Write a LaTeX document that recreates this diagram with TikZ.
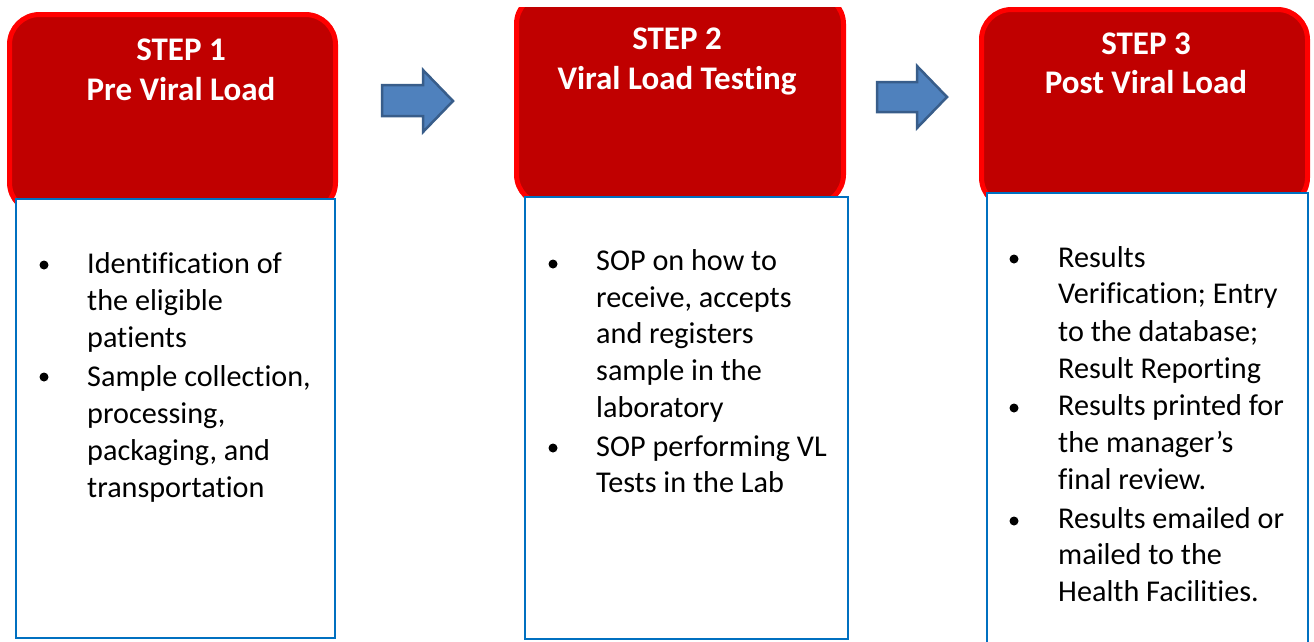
\documentclass[tikz,border=0pt]{standalone}
\usepackage{fontspec}
\setmainfont{Carlito}[Ligatures=CommonOff]
\definecolor{hdrfill}{HTML}{C00000}
\definecolor{hdrline}{HTML}{FF0000}
\definecolor{boxblue}{HTML}{0070C0}
\definecolor{arrfill}{HTML}{4F81BD}
\definecolor{arrline}{HTML}{385D8A}
\tikzset{
  hdr/.style={fill=hdrfill, draw=hdrline, line width=5pt, rounded corners=30pt},
  listbox/.style={fill=white, draw=boxblue, line width=2.5pt},
  blockarrow/.style={fill=arrfill, draw=arrline, line width=2.5pt, line join=miter},
  hdrtxt/.style={anchor=base, inner sep=0pt, text=white, font=\fontsize{33}{40}\selectfont\bfseries},
  body/.style={anchor=base west, inner sep=0pt, text=black, font=\fontsize{30.2}{37}\selectfont},
  bul/.style={circle, fill=black, inner sep=0pt, minimum size=9pt},
}
\begin{document}
\begin{tikzpicture}[x=1pt, y=-1pt]
\useasboundingbox (0,0) rectangle (1314,641);
\clip (0,0) rectangle (1314,641);

% red header boxes
\draw[hdr] (9.5,14.5) rectangle (335.5,212.5);
\begin{scope}
  \clip (500,7) rectangle (870,240);
  \draw[hdr] (516.5,-6) rectangle (843.5,204.5);
\end{scope}
\draw[hdr] (981.5,9.5) rectangle (1307.5,207.5);

% blue list boxes
\draw[listbox] (16,199) rectangle (335,638);
\draw[listbox] (525,197) rectangle (848,639);
\draw[listbox] (987,193) rectangle (1308,660);

% block arrows
\draw[blockarrow] (382,85) -- (423,85) -- (423,70) -- (453,101) -- (423,132) -- (423,116) -- (382,116) -- cycle;
\draw[blockarrow] (877,82) -- (917,82) -- (917,66) -- (947,97) -- (917,128) -- (917,112) -- (877,112) -- cycle;

% header texts
\node[hdrtxt] (h1a) at (181,60) {STEP 1};
\node[hdrtxt] (h1b) at (181,100) {Pre Viral Load};
\node[hdrtxt] (h2a) at (677,49) {STEP 2};
\node[hdrtxt] (h2b) at (677,89) {Viral Load Testing};
\node[hdrtxt] (h3a) at (1146,54) {STEP 3};
\node[hdrtxt] (h3b) at (1146,93) {Post Viral Load};

% bullets
\node[bul] (b1a) at (44,265) {};
\node[bul] (b1b) at (44,377) {};
\node[bul] (b2a) at (553,264) {};
\node[bul] (b2b) at (553,448) {};
\node[bul] (b3a) at (1014,259) {};
\node[bul] (b3b) at (1014,408) {};
\node[bul] (b3c) at (1014,521) {};

% step 1 list
\foreach \n/\y/\t in {a/273/Identification of, b/310/the eligible, c/347/patients,
  d/386/{Sample collection,}, e/423/{processing,}, f/460/{packaging, and}, g/497/transportation}
  \node[body] (t1\n) at (87,\y) {\t};

% step 2 list
\foreach \n/\y/\t in {a/270/SOP on how to, b/307/{receive, accepts}, c/343/and registers,
  d/380/sample in the, e/417/laboratory, f/456/SOP performing VL, g/492/Tests in the Lab}
  \node[body] (t2\n) at (596,\y) {\t};

% step 3 list
\foreach \n/\y/\t in {a/267/Results, b/303/Verification; Entry, c/341/to the database;,
  d/378/Result Reporting, e/415/Results printed for, f/452/the manager’s, g/489/final review.,
  h/528/Results emailed or, i/564/mailed to the, j/601/Health Facilities.}
  \node[body] (t3\n) at (1058,\y) {\t};
\end{tikzpicture}
\end{document}
